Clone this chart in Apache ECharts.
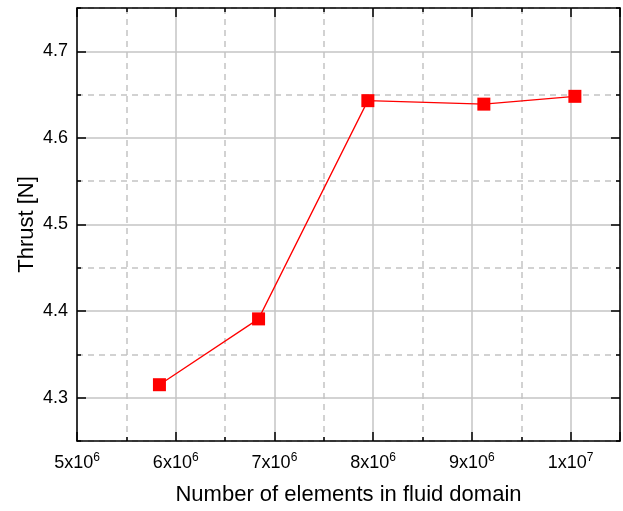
<!DOCTYPE html>
<html>
<head>
<meta charset="utf-8">
<script src="https://cdn.jsdelivr.net/npm/echarts@6/dist/echarts.min.js"></script>
<style>
  html, body { margin: 0; padding: 0; background: #fff; }
  #chart { width: 623px; height: 511px; }
</style>
</head>
<body>
<div id="chart"></div>
<script>
// mesh size vs thrust
const elements = [5.835e6, 6.839e6, 7.946e6, 9.121e6, 1.0043e7];
const thrust = [4.315, 4.391, 4.643, 4.639, 4.648];
const yMajorTicks = [4.3, 4.4, 4.5, 4.6, 4.7];

const gridColor = "#c4c4c4";
const font = "Liberation Sans, Arial, sans-serif";
const textColor = "#000";

/** x tick label like 6x10^6 */
function sciLabel(v) {
  if (Math.abs(v / 1e6 - Math.round(v / 1e6)) > 1e-6) return "";
  const exp = Math.floor(Math.log10(v) + 1e-9);
  const mant = Math.round(v / Math.pow(10, exp));
  return `{b|${mant}x10}{s|${exp}}`;
}

const xBase = {
  type: "value",
  min: 5e6,
  max: 1.05e7,
  axisLabel: { show: false },
  axisLine: { show: false },
  axisTick: { show: false },
  splitLine: { show: false },
};
const yBase = {
  type: "value",
  min: 4.25,
  max: 4.75,
  axisLabel: { show: false },
  axisLine: { show: false },
  axisTick: { show: false },
  splitLine: { show: false },
};

const option = {
  backgroundColor: "#fff",
  animation: false,
  grid: { left: 77, right: 3, top: 8, bottom: 67, containLabel: false },
  xAxis: [
    {
      ...xBase,
      position: "bottom",
      interval: 1e6,
      name: "Number of elements in fluid domain",
      nameLocation: "middle",
      nameGap: 43,
      nameTextStyle: { fontFamily: font, fontSize: 22, color: textColor },
      axisLine: { show: true, onZero: false, lineStyle: { color: "#000", width: 1.5 } },
      axisTick: { show: true, inside: true, length: 9, lineStyle: { color: "#000", width: 1.5 } },
      axisLabel: {
        show: true,
        margin: 11,
        formatter: sciLabel,
        rich: {
          b: { fontFamily: font, fontSize: 18, color: textColor, verticalAlign: "bottom" },
          s: { fontFamily: font, fontSize: 12, color: textColor, verticalAlign: "top", padding: [0, 0, 8, 0] },
        },
      },
      splitLine: { show: true, lineStyle: { color: gridColor, width: 1.5 } },
    },
    {
      ...xBase,
      position: "bottom",
      interval: 5e5,
      axisTick: { show: true, inside: true, length: 4, lineStyle: { color: "#000", width: 1.5 } },
      splitLine: {
        show: true,
        lineStyle: { color: ["rgba(0,0,0,0)", gridColor], width: 1.5, type: [6, 5] },
      },
    },
    {
      ...xBase,
      position: "top",
      interval: 1e6,
      axisLine: { show: true, onZero: false, lineStyle: { color: "#000", width: 1.5 } },
      axisTick: { show: true, inside: true, length: 9, lineStyle: { color: "#000", width: 1.5 } },
    },
    {
      ...xBase,
      position: "top",
      interval: 5e5,
      axisTick: { show: true, inside: true, length: 4, lineStyle: { color: "#000", width: 1.5 } },
    },
  ],
  yAxis: [
    {
      ...yBase,
      position: "left",
      interval: 0.05,
      name: "Thrust [N]",
      nameLocation: "middle",
      nameGap: 39,
      nameMoveOverlap: false,
      nameTextStyle: { fontFamily: font, fontSize: 22, color: textColor },
      axisLine: { show: true, onZero: false, lineStyle: { color: "#000", width: 1.5 } },
      axisTick: { show: true, inside: true, length: 4, lineStyle: { color: "#000", width: 1.5 } },
      axisLabel: {
        show: true,
        margin: 9,
        fontFamily: font,
        fontSize: 18,
        color: textColor,
        formatter(v) {
          return Math.round(v * 20) % 2 === 0 ? v.toFixed(1) : "";
        },
      },
      splitLine: {
        show: true,
        lineStyle: { color: ["rgba(0,0,0,0)", gridColor], width: 1.5 },
      },
    },
    {
      ...yBase,
      position: "left",
      interval: 0.1,
      splitLine: { show: true, lineStyle: { color: gridColor, width: 1.5, type: [6, 5] } },
    },
    {
      ...yBase,
      position: "left",
      axisTick: {
        show: true,
        inside: true,
        length: 9,
        customValues: yMajorTicks,
        lineStyle: { color: "#000", width: 1.5 },
      },
    },
    {
      ...yBase,
      position: "right",
      interval: 0.05,
      axisLine: { show: true, onZero: false, lineStyle: { color: "#000", width: 1.5 } },
      axisTick: { show: true, inside: true, length: 4, lineStyle: { color: "#000", width: 1.5 } },
    },
    {
      ...yBase,
      position: "right",
      axisTick: {
        show: true,
        inside: true,
        length: 9,
        customValues: yMajorTicks,
        lineStyle: { color: "#000", width: 1.5 },
      },
    },
  ],
  series: [
    {
      type: "line",
      xAxisIndex: 0,
      yAxisIndex: 0,
      data: elements.map((x, i) => [x, thrust[i]]),
      symbol: "rect",
      symbolSize: 13,
      itemStyle: { color: "#ff0000" },
      lineStyle: { color: "#ff0000", width: 1.3 },
      z: 10,
    },
  ],
};

const myChart = echarts.init(document.getElementById("chart"), null, { renderer: "canvas" });
myChart.setOption(option);
</script>
</body>
</html>
